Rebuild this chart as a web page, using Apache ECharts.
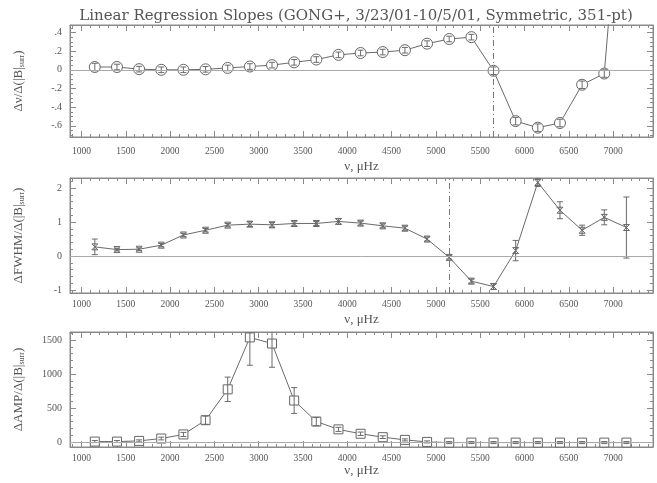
<!DOCTYPE html>
<html><head><meta charset="utf-8">
<script src="https://cdn.jsdelivr.net/npm/echarts@6/dist/echarts.min.js"></script>
<style>html,body{margin:0;padding:0;background:#fff}#c{width:657px;height:483px}</style>
</head><body><div id="c"></div>
<script>
const freq = [1150,1400,1650,1900,2150,2400,2650,2900,3150,3400,3650,3900,4150,4400,4650,4900,5150,5400,5650,5900,6150,6400,6650,6900,7150];
const dnu = [0.03,0.03,0.007,0,0,0.005,0.02,0.035,0.05,0.08,0.11,0.16,0.18,0.19,0.21,0.28,0.33,0.35,-0.01,-0.55,-0.62,-0.57,-0.16,-0.04,2.8];
const dnuErr = [0.04,0.03,0.03,0.03,0.03,0.03,0.03,0.03,0.03,0.03,0.03,0.03,0.03,0.03,0.03,0.03,0.03,0.03,0.04,0.04,0.04,0.04,0.04,0.04,0.05];
const dfwhm = [0.27,0.19,0.2,0.32,0.62,0.76,0.91,0.94,0.92,0.96,0.96,1.02,0.97,0.89,0.82,0.5,-0.04,-0.74,-0.9,0.16,2.17,1.35,0.76,1.14,0.84];
const dfwhmErr = [0.23,0.04,0.04,0.05,0.05,0.05,0.05,0.07,0.07,0.07,0.06,0.08,0.06,0.06,0.06,0.06,0.05,0.06,0.08,0.3,0.12,0.25,0.15,0.22,0.9];
const damp = [5,5,15,50,110,320,775,1540,1450,610,300,185,120,70,30,0,-10,-10,-10,-10,-10,-10,-10,-10,-10];
const dampErr = [15,15,15,20,30,60,180,410,350,190,60,30,25,20,15,15,15,15,15,15,15,15,15,15,15];
const xMin = 870, xMax = 7450;
const yRanges = [[-0.72,0.48],[-1.09,2.3],[-75,1620]];
const vLines = [5650, 5150];
const titleText = 'Linear Regression Slopes (GONG+, 3/23/01-10/5/01, Symmetric, 351-pt)';
const yNames = ['Δν/Δ(|B|', 'ΔFWHM/Δ(|B|', 'ΔAMP/Δ(|B|'];
const xName = 'ν, μHz';

const FONT = 'Liberation Serif';
const TFONT = 'DejaVu Serif';
const INK = '#555';
const FRAME = '#8a8a8a';
const MARK = '#666';
const grids = [
  {left:70, right:4, top:25, height:112},
  {left:70, right:4, top:178, height:115},
  {left:70, right:4, top:332, height:115}
].map(g => Object.assign(g, {show:true, borderColor:FRAME, borderWidth:1, backgroundColor:'transparent', outerBoundsMode:'none', containLabel:false}));
const ySplit = [6,3,3];
const yMinor = [4,5,5];
const labelMargin = [9,6,6];
const nameGap = [23,20,13];
const yFmt = [
  v => { const r = Math.round(v*10)/10; return r===0?'0':String(r).replace('0.','.'); },
  v => String(Math.round(v)),
  v => String(Math.round(v))
];

function axisBase(g, min, max, split, minor) {
  return {gridIndex:g, type:'value', min:min, max:max, splitNumber:split,
    axisLine:{show:true, onZero:false, lineStyle:{color:FRAME, width:1}},
    axisTick:{show:true, inside:true, length:6, lineStyle:{color:FRAME}},
    minorTick:{show:true, splitNumber:minor, length:3, lineStyle:{color:FRAME}},
    splitLine:{show:false}};
}

const xAxes = [], yAxes = [], series = [];
for (let g=0; g<3; g++) {
  xAxes.push(Object.assign(axisBase(g, xMin, xMax, 13, 5), {position:'bottom',
    axisLabel:{show:true, margin:labelMargin[g], fontFamily:FONT, fontSize:9.5, color:INK, showMinLabel:false, showMaxLabel:false, formatter:v=>String(Math.round(v))},
    name:xName, nameLocation:'middle', nameGap:nameGap[g], nameTextStyle:{fontFamily:FONT, fontSize:13, color:INK}}));
  xAxes.push(Object.assign(axisBase(g, xMin, xMax, 13, 5), {position:'top', axisLabel:{show:false}}));
  yAxes.push(Object.assign(axisBase(g, yRanges[g][0], yRanges[g][1], ySplit[g], yMinor[g]), {position:'left',
    axisLabel:{show:true, margin:8, fontFamily:FONT, fontSize:10, color:INK, showMinLabel:false, showMaxLabel:false, formatter:yFmt[g]},
    name:'{a|'+yNames[g]+'}{s|surr}{a|)}', nameLocation:'middle', nameGap:44, nameRotate:90,
    nameTextStyle:{rich:{a:{fontFamily:FONT, fontSize:13, color:INK}, s:{fontFamily:FONT, fontSize:8, color:INK, verticalAlign:'bottom', padding:[6,0,0,0]}}}}));
  yAxes.push(Object.assign(axisBase(g, yRanges[g][0], yRanges[g][1], ySplit[g], yMinor[g]), {position:'right', axisLabel:{show:false}}));
}

const vals = [dnu, dfwhm, damp], errs = [dnuErr, dfwhmErr, dampErr];
const symbols = ['circle', 'path://M0,0L10,10M10,0L0,10M0,0L10,0M0,10L10,10', 'rect'];
const symSizes = [11, 6, 9];
for (let g=0; g<3; g++) {
  const data = freq.map((f,i)=>[f, vals[g][i]]);
  const s = {type:'line', xAxisIndex:2*g, yAxisIndex:2*g, data:data, clip:true,
    symbol:symbols[g], symbolSize:symSizes[g], showAllSymbol:true,
    lineStyle:{color:'#6a6a6a', width:1},
    itemStyle:{color:g===1?'none':'#fff', borderColor:MARK, borderWidth:1},
    emphasis:{disabled:true},
    z:3, animation:false,
    markLine:{silent:true, symbol:'none', animation:false, label:{show:false},
      data:[{yAxis:0, lineStyle:{color:'#aaa', type:'solid', width:1}}]}};
  if (g<2) s.markLine.data.push({xAxis:vLines[g], lineStyle:{color:'#777', type:[6,3,1,3], width:1}});
  series.push(s);
  const eb = freq.map((f,i)=>[f, vals[g][i]-errs[g][i], vals[g][i]+errs[g][i]]);
  series.push({type:'custom', xAxisIndex:2*g, yAxisIndex:2*g, data:eb, clip:true, z:4, animation:false,
    renderItem:(params, api)=>{
      const lo = api.coord([api.value(0), api.value(1)]);
      const hi = api.coord([api.value(0), api.value(2)]);
      const w = 3;
      const st = {stroke:'#6a6a6a', lineWidth:1};
      return {type:'group', children:[
        {type:'line', shape:{x1:lo[0], y1:lo[1], x2:hi[0], y2:hi[1]}, style:st},
        {type:'line', shape:{x1:lo[0]-w, y1:lo[1], x2:lo[0]+w, y2:lo[1]}, style:st},
        {type:'line', shape:{x1:hi[0]-w, y1:hi[1], x2:hi[0]+w, y2:hi[1]}, style:st}
      ]};
    }});
  // keep the top and right frame axes active (one invisible point)
  series.push({type:'line', xAxisIndex:2*g+1, yAxisIndex:2*g+1, data:[[freq[0], vals[g][0]]], silent:true,
    showSymbol:false, symbolSize:0, lineStyle:{opacity:0}, itemStyle:{opacity:0}});
}

const chart = echarts.init(document.getElementById('c'), null, {renderer:'canvas'});
chart.setOption({
  backgroundColor:'#fff',
  animation:false,
  grid:grids,
  xAxis:xAxes, yAxis:yAxes, series:series,
  graphic:[{type:'text', x:356, y:16, style:{text:titleText, align:'center', verticalAlign:'middle', fontFamily:TFONT, fontSize:15, fill:INK}}]
});
</script></body></html>
